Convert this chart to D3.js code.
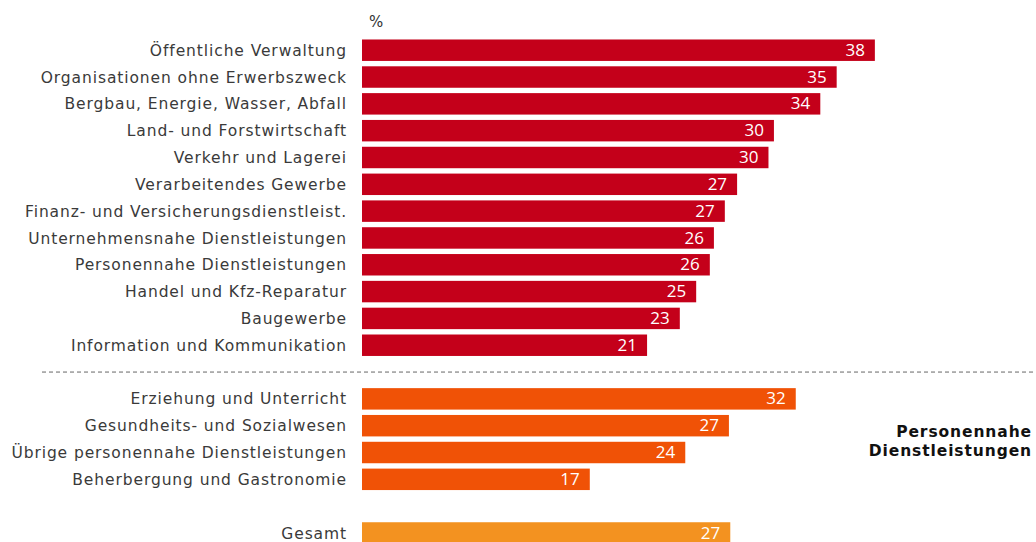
<!DOCTYPE html>
<html>
<head>
<meta charset="utf-8">
<script src="https://cdn.jsdelivr.net/npm/d3@7"></script>
<style>
  body { margin: 0; background: #fff; }
  #chart { width: 1036px; height: 542px; }
</style>
</head>
<body>
<div id="chart"></div>
<script>
// categories per group (top to bottom)
var sectors = ["Öffentliche Verwaltung", "Organisationen ohne Erwerbszweck", "Bergbau, Energie, Wasser, Abfall",
  "Land- und Forstwirtschaft", "Verkehr und Lagerei", "Verarbeitendes Gewerbe",
  "Finanz- und Versicherungsdienstleist.", "Unternehmensnahe Dienstleistungen", "Personennahe Dienstleistungen",
  "Handel und Kfz-Reparatur", "Baugewerbe", "Information und Kommunikation"]
var sectorValues = [37.6, 34.8, 33.6, 30.2, 29.8, 27.5, 26.6, 25.8, 25.5, 24.5, 23.3, 20.9]
var sectorLabels = [38, 35, 34, 30, 30, 27, 27, 26, 26, 25, 23, 21]

var personal = ["Erziehung und Unterricht", "Gesundheits- und Sozialwesen",
  "Übrige personennahe Dienstleistungen", "Beherbergung und Gastronomie"]
var personalValues = [31.8, 26.9, 23.7, 16.7]
var personalLabels = [32, 27, 24, 17]

var total = ["Gesamt"]
var totalValues = [27.0]
var totalLabels = [27]

var unit = "%"
var groupNote = ["Personennahe", "Dienstleistungen"]

var colors = { sector: "#c4001a", personal: "#f05206", total: "#f39220" }

// build rows, with a slot for the dashed separator and an empty gap
var rows = []
sectors.forEach(function(d, i) { rows.push({ key: d, value: sectorValues[i], label: sectorLabels[i], group: "sector" }) })
rows.push({ key: "__sep", group: "sep" })
personal.forEach(function(d, i) { rows.push({ key: d, value: personalValues[i], label: personalLabels[i], group: "personal" }) })
rows.push({ key: "__gap", group: "gap" })
total.forEach(function(d, i) { rows.push({ key: d, value: totalValues[i], label: totalLabels[i], group: "total" }) })

var width = 1036, height = 542

var svg = d3.select("#chart")
  .append("svg")
  .attr("width", width)
  .attr("height", height)

var x = d3.scaleLinear()
  .domain([0, 40])
  .range([362, 362 + 40 * 13.64])

var y = d3.scaleBand()
  .domain(rows.map(function(d) { return d.key }))
  .range([36.8, 36.8 + 26.82 * rows.length])
  .paddingInner(0.2)
  .paddingOuter(0.1)

var bars = rows.filter(function(d) { return d.value != null })

// unit label
svg.append("text")
  .attr("x", x(0) + 7)
  .attr("y", 27)
  .style("font-family", "DejaVu Sans, Verdana, sans-serif")
  .style("font-size", "15px")
  .style("fill", "#333")
  .text(unit)

// dashed separator
var sepY = y("__sep") + y.bandwidth() / 2
svg.append("line")
  .attr("x1", 42)
  .attr("x2", width)
  .attr("y1", sepY)
  .attr("y2", sepY)
  .style("stroke", "#666")
  .style("stroke-width", 1)
  .style("stroke-dasharray", "4,3")

// bars
svg.append("g")
  .selectAll("rect")
  .data(bars)
  .enter()
  .append("rect")
  .attr("x", x(0))
  .attr("y", function(d) { return y(d.key) })
  .attr("width", function(d) { return x(d.value) - x(0) })
  .attr("height", y.bandwidth())
  .style("fill", function(d) { return colors[d.group] })

// value labels inside bars
svg.append("g")
  .selectAll("text")
  .data(bars)
  .enter()
  .append("text")
  .attr("x", function(d) { return x(d.value) - 10 })
  .attr("y", function(d) { return y(d.key) + y.bandwidth() / 2 })
  .attr("dy", "0.33em")
  .attr("text-anchor", "end")
  .style("font-family", "Open Sans, sans-serif")
  .style("font-size", "17px")
  .style("fill", "#fff")
  .text(function(d) { return d.label })

// category labels
svg.append("g")
  .selectAll("text")
  .data(bars)
  .enter()
  .append("text")
  .attr("x", 347)
  .attr("y", function(d) { return y(d.key) + y.bandwidth() / 2 })
  .attr("dy", "0.36em")
  .attr("text-anchor", "end")
  .style("font-family", "DejaVu Sans, Verdana, sans-serif")
  .style("font-size", "15.5px")
  .style("letter-spacing", "0.9px")
  .style("fill", "#3a3a3a")
  .text(function(d) { return d.key })

// group note on the right
svg.append("text")
  .attr("x", 1032)
  .attr("y", 437)
  .attr("text-anchor", "end")
  .style("font-family", "DejaVu Sans, Verdana, sans-serif")
  .style("font-size", "15.5px")
  .style("letter-spacing", "0.9px")
  .style("font-weight", "bold")
  .style("fill", "#111")
  .selectAll("tspan")
  .data(groupNote)
  .enter()
  .append("tspan")
  .attr("x", 1032)
  .attr("dy", function(d, i) { return i === 0 ? 0 : 19 })
  .text(function(d) { return d })
</script>
</body>
</html>
